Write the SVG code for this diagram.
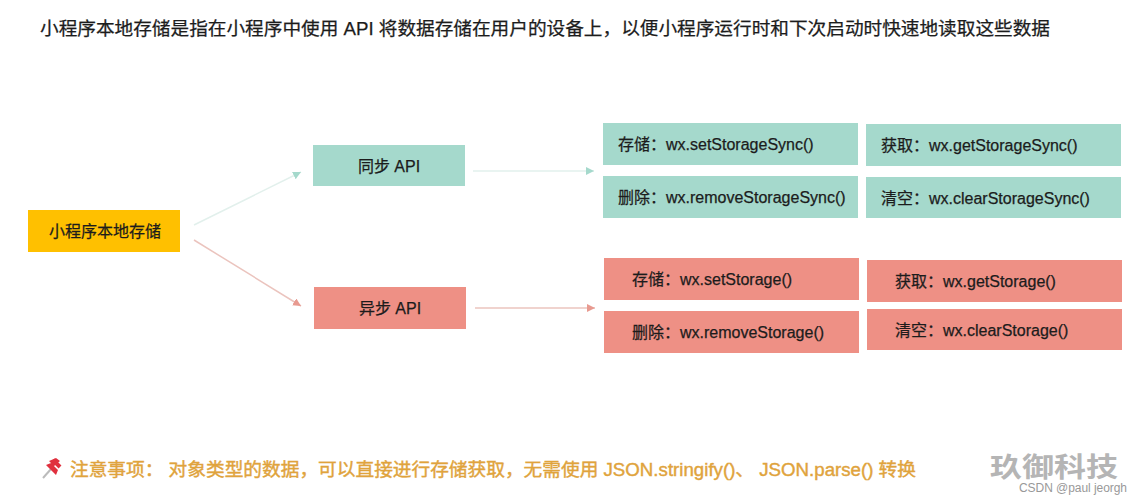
<svg xmlns="http://www.w3.org/2000/svg" width="1138" height="500" viewBox="0 0 1138 500">
<style>
text{font-family:"Liberation Sans","Noto Sans CJK SC",sans-serif;fill:#1c1c1c;stroke:#1c1c1c;stroke-width:.25px}
.t{font-size:16px}
.c{text-anchor:middle}
.g{fill:#A5D9CC}
.r{fill:#EE9085}
.lg{stroke:#E2F0EC;stroke-width:1.5;fill:none}
.lr{stroke:#EBC4BE;stroke-width:1.5;fill:none}
</style>
<defs>
<marker id="ag" markerUnits="userSpaceOnUse" markerWidth="9" markerHeight="9" refX="8" refY="4" orient="auto"><path d="M0 0L8 4L0 8Z" fill="#A5D9CC"/></marker>
<marker id="ar" markerUnits="userSpaceOnUse" markerWidth="9" markerHeight="9" refX="8" refY="4" orient="auto"><path d="M0 0L8 4L0 8Z" fill="#E89A90"/></marker>
</defs>
<rect width="1138" height="500" fill="#fff"/>
<text id="title" x="40" y="35" font-size="18" textLength="1010" lengthAdjust="spacingAndGlyphs">小程序本地存储是指在小程序中使用 API 将数据存储在用户的设备上，以便小程序运行时和下次启动时快速地读取这些数据</text>
<g id="connectors">
<path class="lg" d="M194 225L301 172" marker-end="url(#ag)"/>
<path class="lr" d="M194 240L301 306" marker-end="url(#ar)"/>
<path class="lg" d="M473 171L594 171" marker-end="url(#ag)"/>
<path class="lr" d="M475 308L595 308" marker-end="url(#ar)"/>
</g>
<g id="root"><rect x="28" y="210" width="152" height="42" fill="#FFC000"/><text class="t c" x="105" y="237" textLength="112" lengthAdjust="spacingAndGlyphs">小程序本地存储</text></g>
<g id="sync"><rect class="g" x="313" y="145" width="152" height="41"/><text class="t c" x="389" y="172">同步 API</text></g>
<g id="async"><rect class="r" x="314" y="287" width="152" height="42"/><text class="t c" x="390" y="314">异步 API</text></g>
<g id="s1"><rect class="g" x="603" y="123" width="255" height="42"/><text class="t" x="618" y="150">存储：wx.setStorageSync()</text></g>
<g id="s2"><rect class="g" x="603" y="176" width="255" height="42"/><text class="t" x="618" y="203">删除：wx.removeStorageSync()</text></g>
<g id="s3"><rect class="g" x="866" y="124" width="255" height="42"/><text class="t" x="881" y="151">获取：wx.getStorageSync()</text></g>
<g id="s4"><rect class="g" x="866" y="177" width="255" height="41"/><text class="t" x="881" y="204">清空：wx.clearStorageSync()</text></g>
<g id="a1"><rect class="r" x="604" y="258" width="255" height="42"/><text class="t" x="632" y="285">存储：wx.setStorage()</text></g>
<g id="a2"><rect class="r" x="604" y="311" width="255" height="42"/><text class="t" x="632" y="338">删除：wx.removeStorage()</text></g>
<g id="a3"><rect class="r" x="867" y="260" width="255" height="42"/><text class="t" x="895" y="287">获取：wx.getStorage()</text></g>
<g id="a4"><rect class="r" x="867" y="309" width="255" height="41"/><text class="t" x="895" y="336">清空：wx.clearStorage()</text></g>
<g id="pin"><path d="M43 478L51 469" stroke="#bbb" stroke-width="2"/><path d="M49 461L54 466L60 461L56 458Z M46 465L56 475L58 470L51 463Z" fill="#E0303E"/><path d="M53 460L60 467" stroke="#E0303E" stroke-width="4"/></g>
<text id="note" x="70" y="476" font-size="18" style="fill:#E0A33C;stroke:#E0A33C;stroke-width:.4px" textLength="846" lengthAdjust="spacingAndGlyphs">注意事项： 对象类型的数据，可以直接进行存储获取，无需使用 JSON.stringify()、 JSON.parse() 转换</text>
<text id="wm" x="990" y="477" font-size="27" font-weight="700" style="fill:#B5B5B5;stroke:none" textLength="128" lengthAdjust="spacingAndGlyphs">玖御科技</text>
<text id="csdn" x="1019" y="492" font-size="12" style="fill:#999;stroke:none" textLength="108">CSDN @paul jeorgh</text>
</svg>
